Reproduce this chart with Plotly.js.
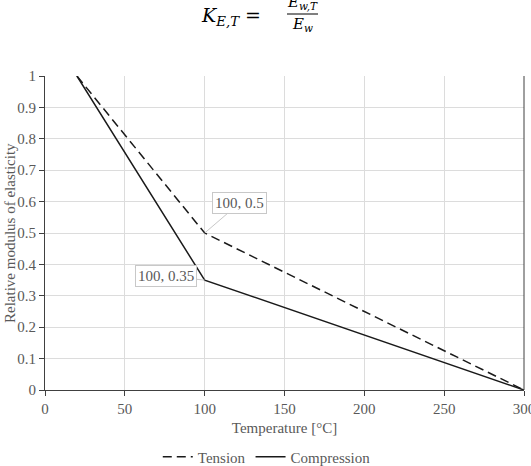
<!DOCTYPE html>
<html>
<head>
<meta charset="utf-8">
<script src="https://cdn.plot.ly/plotly-3.0.1.min.js"></script>
<style>
  html, body { margin: 0; padding: 0; background: #fff; }
  #chart { width: 531px; height: 466px; }
</style>
</head>
<body>
<div id="chart"></div>
<script>
// Relative modulus of elasticity of timber vs temperature
const temperature = [20, 100, 300];
const tension = [1, 0.5, 0];
const compression = [1, 0.35, 0];
const seriesNames = ['Tension', 'Compression'];
const xTicks = [0, 50, 100, 150, 200, 250, 300];
const yTicks = [0, 0.1, 0.2, 0.3, 0.4, 0.5, 0.6, 0.7, 0.8, 0.9, 1];

const serif = '"Liberation Serif", "Times New Roman", serif';
const mathSerif = '"DejaVu Serif", serif';
const grey = '#595959';

const traces = [
  {
    x: temperature, y: tension, name: seriesNames[0], type: 'scatter', mode: 'lines',
    line: { color: '#1a1a1a', width: 1.5, dash: '9px,5px' }
  },
  {
    x: temperature, y: compression, name: seriesNames[1], type: 'scatter', mode: 'lines',
    line: { color: '#1a1a1a', width: 1.5 }
  }
];

// value callouts at the 100 °C break points
function callout(x, y, ax, ay) {
  return {
    x: x, y: y, xref: 'x', yref: 'y',
    text: x + ', ' + y,
    showarrow: true, arrowhead: 0, arrowwidth: 1, arrowcolor: '#c8c8c8',
    ax: ax, ay: ay,
    bgcolor: '#ffffff', bordercolor: '#c8c8c8', borderwidth: 1, borderpad: 2,
    font: { family: serif, size: 15, color: grey }
  };
}

const annotations = [
  callout(temperature[1], tension[1], 35, -30),
  callout(temperature[1], compression[1], -39, -4),
  // y-axis title
  {
    xref: 'paper', yref: 'paper', x: (10 - 45) / 479, y: 0.5,
    text: 'Relative modulus of elasticity', textangle: -90, showarrow: false,
    xanchor: 'center', yanchor: 'middle',
    font: { family: serif, size: 15, color: grey }
  },
  // formula heading: K_E,T = E_w,T / E_w
  {
    xref: 'paper', yref: 'paper', x: (263 - 45) / 479, y: (390 - 17) / 314,
    text: '<i>K</i><sub><i>E,T</i></sub> =', showarrow: false,
    xanchor: 'right', yanchor: 'middle',
    font: { family: mathSerif, size: 19, color: '#000' }
  },
  {
    xref: 'paper', yref: 'paper', x: (302 - 45) / 479, y: (390 - 3) / 314,
    text: '<i>E</i><sub><i>w,T</i></sub>', showarrow: false,
    xanchor: 'center', yanchor: 'middle',
    font: { family: mathSerif, size: 15, color: '#000' }
  },
  {
    xref: 'paper', yref: 'paper', x: (302 - 45) / 479, y: (390 - 25) / 314,
    text: '<i>E</i><sub><i>w</i></sub>', showarrow: false,
    xanchor: 'center', yanchor: 'middle',
    font: { family: mathSerif, size: 15, color: '#000' }
  }
];

const shapes = [
  // fraction bar
  {
    type: 'line', xref: 'paper', yref: 'paper',
    x0: (287 - 45) / 479, x1: (318 - 45) / 479,
    y0: (390 - 14) / 314, y1: (390 - 14) / 314,
    line: { color: '#000', width: 1 }
  },
  // right frame line
  {
    type: 'line', xref: 'paper', yref: 'paper', x0: 1, x1: 1, y0: 0, y1: 1,
    line: { color: '#404040', width: 1 }
  }
];

const layout = {
  width: 531, height: 466,
  margin: { l: 45, r: 7, t: 76, b: 76 },
  paper_bgcolor: '#fff', plot_bgcolor: '#fff',
  showlegend: true,
  legend: {
    orientation: 'h', x: 0.463, xanchor: 'center',
    yref: 'container', y: (466 - 457) / 466, yanchor: 'middle',
    font: { family: serif, size: 15, color: grey }, itemwidth: 30
  },
  xaxis: {
    range: [0, 300], tickvals: xTicks, ticks: 'outside', ticklen: 5, tickcolor: '#404040',
    showline: true, linecolor: '#404040', linewidth: 1,
    showgrid: true, gridcolor: '#dcdcdc', zeroline: false,
    ticklabeloverflow: 'allow', automargin: false,
    tickfont: { family: serif, size: 15, color: grey },
    title: { text: 'Temperature [°C]', standoff: 6, font: { family: serif, size: 15, color: grey } }
  },
  yaxis: {
    range: [0, 1], tickvals: yTicks, ticktext: yTicks.map(String), ticks: 'outside', ticklen: 5,
    tickcolor: '#404040', showline: true, linecolor: '#404040', linewidth: 1,
    showgrid: true, gridcolor: '#dcdcdc', zeroline: false, automargin: false,
    tickfont: { family: serif, size: 15, color: grey }
  },
  annotations: annotations,
  shapes: shapes
};

Plotly.newPlot('chart', traces, layout, { displayModeBar: false, staticPlot: true });
</script>
</body>
</html>
